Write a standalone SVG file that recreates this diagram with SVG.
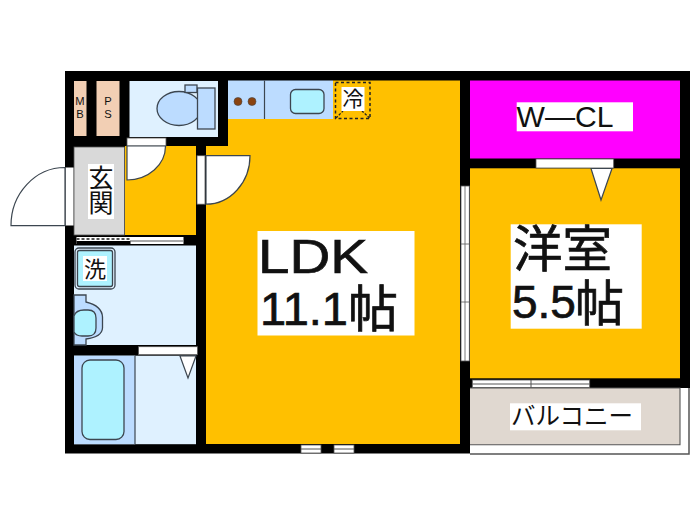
<svg xmlns="http://www.w3.org/2000/svg" width="700" height="525" viewBox="0 0 700 525">
<style>
.t{font-family:"Liberation Sans","Noto Sans CJK JP",sans-serif;fill:#111}
.j{font-family:"Noto Sans CJK JP",sans-serif;fill:#111}
.b{stroke:#111;stroke-width:.7}
.o{stroke:#3c4650;stroke-width:1.3}
.d{fill:#fff;stroke:#3c4650;stroke-width:1.2}
.w{fill:#fff;stroke:#555;stroke-width:.8}
.y{fill:#ffc000}
.lb{fill:#bcdcff}
.cy{fill:#aef2ff}
.pale{fill:#dff1ff}
</style>
<rect width="700" height="525" fill="#fff"/>
<g id="walls">
<rect x="65" y="71" width="625" height="382.500" fill="#000"/>
<rect x="470" y="388" width="220" height="67" fill="#fff"/>
<path d="M470 454H689V388" fill="none" stroke="#555" stroke-width="1.500"/>
</g>
<g id="mb"><rect x="74" y="81" width="12.500" height="55" fill="#f2cfb4"/><text class="t" x="80" y="105" font-size="11.200" text-anchor="middle">M</text><text class="t" x="80" y="118" font-size="11.200" text-anchor="middle">B</text></g>
<g id="ps"><rect x="96.500" y="81" width="23" height="55" fill="#f2cfb4"/><text class="t" x="108" y="105" font-size="11.200" text-anchor="middle">P</text><text class="t" x="108" y="118" font-size="11.200" text-anchor="middle">S</text></g>
<g id="toilet"><rect x="129.500" y="81" width="88.500" height="56" class="pale"/>
<ellipse cx="179" cy="108.500" rx="22" ry="17" class="lb o"/>
<rect x="185" y="85" width="12" height="7.500" class="lb o"/>
<rect x="197.500" y="88" width="17.500" height="41" class="lb o"/></g>
<g id="hall"><rect x="125" y="146" width="71" height="89" class="y"/>
<rect x="127" y="138" width="39" height="8" class="w"/>
<path d="M127 146H165.500A38.500 34 0 0 1 127 180Z" class="d"/></g>
<g id="genkan"><rect x="74" y="147" width="50.500" height="88" fill="#d9d9d9" stroke="#555" stroke-width=".8"/>
<rect x="88" y="164" width="26" height="55" fill="#fff"/>
<text class="j" x="101" y="165" font-size="25" writing-mode="vertical-rl" text-anchor="start">玄関</text>
<rect x="65.500" y="167.500" width="8" height="58" fill="#fff"/>
<path d="M65 167.500A54 58 0 0 0 11 225.700H65Z" class="d"/></g>
<g id="slide"><rect x="76.500" y="237" width="107" height="7" fill="#fff"/><rect x="76.500" y="241" width="54" height="3.500" fill="#000"/><line x1="76.500" y1="239" x2="130" y2="239" stroke="#555" stroke-width="2" stroke-dasharray="3 2"/><line x1="130" y1="241" x2="183" y2="241" stroke="#555" stroke-width="1"/></g>
<g id="wash"><rect x="74" y="245.500" width="122" height="99.500" class="pale"/>
<rect x="75" y="248" width="40" height="41" rx="4" fill="none" stroke="#3c4650" stroke-width="1.300"/>
<rect x="77.500" y="250.500" width="35" height="36" rx="2" class="cy o"/>
<rect x="83" y="256" width="24" height="25" fill="#fff"/>
<text class="j" x="95" y="277" font-size="22" text-anchor="middle">洗</text>
<path d="M74 295H86V302Q102 306 102.500 317V328Q102 337 86 339V345H74Z" class="lb o"/>
<path d="M74 316Q76 310 84 310H88Q96 310 96 318V328Q96 336 88 336H82Q76 336 74 332Z" class="cy o"/></g>
<g id="bath"><rect x="74" y="355.700" width="122" height="88.500" class="pale"/>
<rect x="74" y="355.700" width="61" height="88.500" class="lb"/><line x1="135" y1="355.700" x2="135" y2="444" stroke="#3c4650" stroke-width="1.200"/>
<rect x="82" y="360" width="42" height="79.500" rx="8" class="cy o"/>
<rect x="138.500" y="346.700" width="59" height="8" class="w"/>
<path d="M180 356H196L188 378Z" class="d"/></g>
<g id="ldk"><path d="M206 146H228V119H333V80.500H460V444H206Z" class="y"/>
<rect x="197" y="155.700" width="8" height="48.500" class="w"/>
<path d="M206 155.700H250A44 48.500 0 0 1 206 204.200Z" class="d"/>
<rect x="257.500" y="231" width="157" height="104.500" fill="#fff"/>
<text class="t b" x="258" y="273.300" font-size="49" textLength="110" lengthAdjust="spacingAndGlyphs">LDK</text>
<text class="t b" x="260" y="325" font-size="47">11.1<tspan x="348" dy="2" font-size="50">帖</tspan></text>
<rect x="301" y="445" width="20" height="8" class="w"/><rect x="334" y="445" width="20" height="8" class="w"/>
<line x1="301" y1="449" x2="321" y2="449" stroke="#555"/><line x1="334" y1="449" x2="354" y2="449" stroke="#555"/></g>
<g id="kitchen"><rect x="228" y="80.500" width="105" height="38.500" class="lb"/>
<line x1="264.500" y1="80.500" x2="264.500" y2="119" stroke="#3c4650" stroke-width="1.200"/>
<circle cx="238" cy="101.500" r="4" fill="#8a4310" stroke="#444" stroke-width=".6"/><circle cx="252" cy="101.500" r="4" fill="#8a4310" stroke="#444" stroke-width=".6"/>
<rect x="290.500" y="89.500" width="33.500" height="24" rx="5" class="cy o"/></g>
<g id="fridge"><rect x="335.500" y="82.500" width="34.500" height="36" fill="none" stroke="#222" stroke-width="1.500" stroke-dasharray="3 2.500"/>
<path d="M336 118L343 111M369.500 118L362 111" stroke="#222" stroke-width="1.300" stroke-dasharray="2.500 1.500"/>
<rect x="341.500" y="87" width="23" height="24" fill="#fff"/>
<text class="j" x="353" y="106" font-size="21" text-anchor="middle">冷</text></g>
<g id="wcl"><rect x="470" y="80.500" width="210" height="78" fill="#ff00ff"/>
<rect x="516.700" y="102.300" width="116.300" height="29" fill="#fff"/>
<text class="t" x="516.500" y="126.500" font-size="29" textLength="97" lengthAdjust="spacingAndGlyphs">W—CL</text></g>
<g id="yoshitsu"><rect x="470" y="168.300" width="210" height="210" class="y"/>
<rect x="536" y="159" width="77.700" height="9" class="w"/>
<path d="M591 168.500H612L601 200Z" class="d"/>
<rect x="510.700" y="224.300" width="131" height="104.400" fill="#fff"/>
<text class="t b" x="513" y="267" font-size="49.500">洋室</text>
<text class="t b" x="512" y="318" font-size="46">5.5<tspan x="575" y="321" font-size="49">帖</tspan></text>
<rect x="461" y="186" width="8.300" height="175" class="w"/>
<line x1="465" y1="186" x2="465" y2="361" stroke="#555" stroke-width=".8"/>
<path d="M461 244H469M461 302H469" stroke="#555" stroke-width=".8"/></g>
<g id="balcony"><path d="M470 388H680V444.700H470Z" fill="#e0d8d0"/>
<path d="M470 388H680V444.700H470" fill="none" stroke="#555" stroke-width="1.100"/>
<rect x="472.300" y="380" width="117.400" height="7.500" class="w"/>
<line x1="472.300" y1="384" x2="589.700" y2="384" stroke="#555"/>
<line x1="531" y1="380" x2="531" y2="387.500" stroke="#555"/>
<rect x="510" y="403.300" width="131" height="27" fill="#fff"/>
<text class="j" x="511" y="425" font-size="24.500">バルコニー</text></g>
</svg>
